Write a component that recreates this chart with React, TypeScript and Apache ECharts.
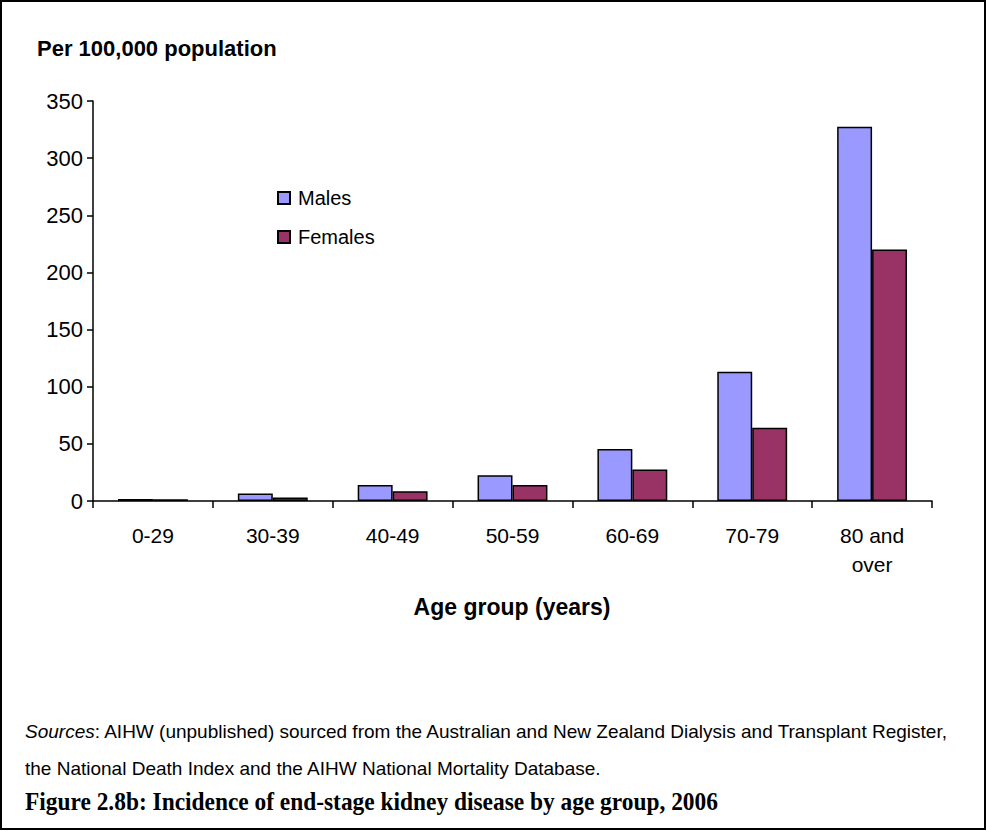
import React, { useEffect, useRef } from "react";
import * as echarts from "echarts";

const categories = ["0-29", "30-39", "40-49", "50-59", "60-69", "70-79", "80 and\nover"];
const males = [1.8, 6.5, 14, 22.5, 45.5, 113, 327.5];
const females = [1.5, 3, 8.5, 14, 27.5, 64, 220];
const yTicks = { min: 0, max: 350, interval: 50 };

const SANS = "'Liberation Sans', Arial, sans-serif";
const SERIF = "'Liberation Serif', 'Times New Roman', serif";

export default function App() {
  const ref = useRef<HTMLDivElement>(null);
  useEffect(() => {
    if (!ref.current) return;
    const chart = echarts.init(ref.current, null, { renderer: "svg" });
    chart.setOption({
      animation: false,
      backgroundColor: "#ffffff",
      textStyle: { fontFamily: SANS },
      grid: { left: 93, right: 55, top: 101, bottom: 330, containLabel: false },
      legend: {
        orient: "vertical",
        left: 272,
        top: 183,
        itemWidth: 12,
        itemHeight: 12,
        itemGap: 19,
        icon: "rect",
        textStyle: { fontSize: 20, color: "#000", fontFamily: SANS, lineHeight: 20, padding: [0, 0, 0, 3] },
        data: ["Males", "Females"],
      },
      xAxis: {
        type: "category",
        data: categories,
        boundaryGap: true,
        axisLine: { lineStyle: { color: "#000", width: 1.5 } },
        axisTick: { show: true, length: 7, inside: false, alignWithLabel: false, lineStyle: { color: "#000", width: 1.5 } },
        axisLabel: { color: "#000", fontSize: 21, fontFamily: SANS, margin: 20, lineHeight: 29, interval: 0 },
        splitLine: { show: false },
      },
      yAxis: {
        type: "value",
        min: yTicks.min,
        max: yTicks.max,
        interval: yTicks.interval,
        axisLine: { show: true, lineStyle: { color: "#000", width: 1.5 } },
        axisTick: { show: true, length: 6, inside: false, lineStyle: { color: "#000", width: 1.5 } },
        axisLabel: { color: "#000", fontSize: 22, fontFamily: SANS, margin: 10 },
        splitLine: { show: false },
      },
      series: [
        {
          name: "Males",
          type: "bar",
          data: males,
          barGap: "0%",
          barCategoryGap: "41.7%",
          itemStyle: { color: "#9999FF", borderColor: "#000", borderWidth: 1.5 },
        },
        {
          name: "Females",
          type: "bar",
          data: females,
          barGap: "0%",
          barCategoryGap: "41.7%",
          itemStyle: { color: "#993366", borderColor: "#000", borderWidth: 1.5 },
        },
      ],
      graphic: [
        {
          type: "rect",
          shape: { x: 1, y: 1, width: 984, height: 828 },
          style: { fill: "none", stroke: "#000", lineWidth: 2 },
          silent: true,
        },
        {
          type: "text",
          x: 37,
          y: 48,
          style: { text: "Per 100,000 population", font: `bold 22px ${SANS}`, fill: "#000", textAlign: "left", textVerticalAlign: "middle" },
        },
        {
          type: "text",
          x: 512,
          y: 607,
          style: { text: "Age group (years)", font: `bold 23px ${SANS}`, fill: "#000", textAlign: "center", textVerticalAlign: "middle" },
        },
        {
          type: "text",
          x: 25,
          y: 731,
          style: {
            text: "{i|Sources}: AIHW (unpublished) sourced from the Australian and New Zealand Dialysis and Transplant Register,",
            font: `19px ${SANS}`,
            fill: "#000",
            textAlign: "left",
            textVerticalAlign: "middle",
            rich: { i: { fontStyle: "italic", fontSize: 19, fontFamily: SANS } },
          },
        },
        {
          type: "text",
          x: 25,
          y: 768,
          style: {
            text: "the National Death Index and the AIHW National Mortality Database.",
            font: `19px ${SANS}`,
            fill: "#000",
            textAlign: "left",
            textVerticalAlign: "middle",
          },
        },
        {
          type: "text",
          x: 25,
          y: 801,
          scaleX: 0.9,
          style: {
            text: "Figure 2.8b: Incidence of end-stage kidney disease by age group, 2006",
            font: `bold 26px ${SERIF}`,
            fill: "#000",
            textAlign: "left",
            textVerticalAlign: "middle",
          },
        },
      ],
    });
    return () => chart.dispose();
  }, []);
  return (
    <div
      ref={ref}
      style={{ position: "fixed", left: 0, top: 0, width: 987, height: 831, background: "#fff" }}
    />
  );
}
